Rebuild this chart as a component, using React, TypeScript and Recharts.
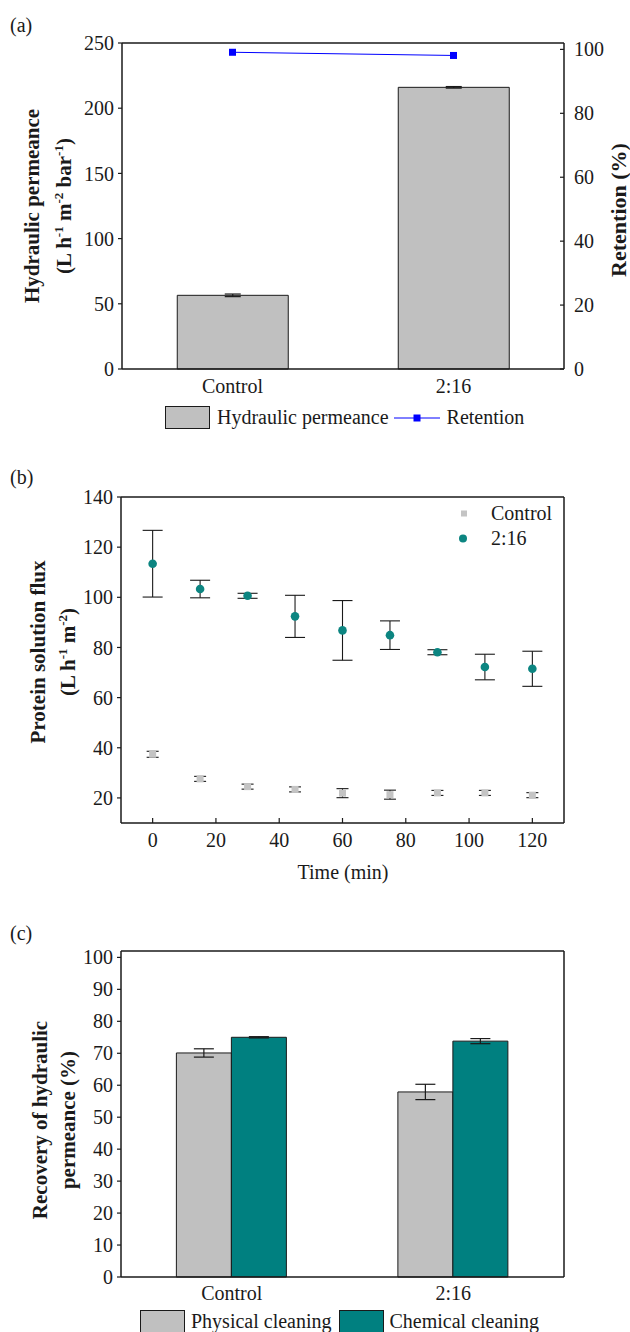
import React from 'react';
import {
  ComposedChart,
  ScatterChart,
  Bar,
  Line,
  Scatter,
  XAxis,
  YAxis,
  ErrorBar,
  ReferenceLine,
  Legend,
} from 'recharts';

const SERIF = '"Liberation Serif", "Times New Roman", serif';
const INK = '#1a1a1a';
const GREY = '#c0c0c0';
const TEAL = '#008080';
const BLUE = '#0000ff';

// (a) pure water permeance + BSA retention
const membranes = ['Control', '2:16'];
const permeance = [56.5, 216];
const permeanceErr = [1.0, 0.6];
const retention = [99.1, 98.1];
const permeanceTicks = [0, 50, 100, 150, 200, 250];
const retentionTicks = [0, 20, 40, 60, 80, 100];

// (b) protein solution flux vs filtration time
const timeMin = [0, 15, 30, 45, 60, 75, 90, 105, 120];
const fluxControl = [37.4, 27.6, 24.5, 23.4, 21.9, 21.3, 22.0, 22.0, 21.1];
const fluxControlErr = [1.2, 1.0, 1.0, 1.0, 1.8, 1.8, 1.0, 1.0, 1.0];
const flux216 = [113.4, 103.3, 100.6, 92.4, 86.8, 84.9, 78.1, 72.2, 71.5];
const flux216Err = [13.3, 3.5, 1.0, 8.4, 11.9, 5.7, 1.0, 5.1, 7.0];
const timeTicks = [0, 20, 40, 60, 80, 100, 120];
const fluxTicks = [20, 40, 60, 80, 100, 120, 140];

// (c) permeance recovery after cleaning
const recoveryPhysical = [70.1, 57.9];
const recoveryPhysicalErr = [1.3, 2.4];
const recoveryChemical = [75.0, 73.8];
const recoveryChemicalErr = [0.2, 0.8];
const recoveryTicks = [0, 10, 20, 30, 40, 50, 60, 70, 80, 90, 100];

const permData = membranes.map((name, i) => ({
  name,
  permeance: permeance[i],
  permeanceErr: permeanceErr[i],
  retention: retention[i],
}));

const controlData = timeMin.map((t, i) => ({ t, flux: fluxControl[i], err: fluxControlErr[i] }));
const data216 = timeMin.map((t, i) => ({ t, flux: flux216[i], err: flux216Err[i] }));

const recoveryData = membranes.map((name, i) => ({
  name,
  physical: recoveryPhysical[i],
  physicalErr: recoveryPhysicalErr[i],
  chemical: recoveryChemical[i],
  chemicalErr: recoveryChemicalErr[i],
}));

const tickFont = { fill: INK, fontSize: 20, fontFamily: SERIF };
const axisStroke = { stroke: INK, strokeWidth: 1.5 };
const tickStroke = { stroke: INK, strokeWidth: 1.2 };

const Sup = ({ children }: { children: React.ReactNode }) => (
  <span style={{ fontSize: '0.62em', position: 'relative', top: '-0.6em' }}>{children}</span>
);

// rotated, bold axis title; first line ends up on the left
function SideTitle({ cx, cy, gap, size, lines }: { cx: number; cy: number; gap: number; size: number; lines: React.ReactNode[] }) {
  const h = gap * lines.length;
  return (
    <div
      style={{
        position: 'absolute',
        left: cx - 200,
        top: cy - h / 2,
        width: 400,
        height: h,
        lineHeight: `${gap}px`,
        textAlign: 'center',
        transform: 'rotate(-90deg)',
        fontFamily: SERIF,
        fontWeight: 700,
        fontSize: size,
        color: INK,
        whiteSpace: 'nowrap',
      }}
    >
      {lines.map((l, i) => (
        <div key={i}>{l}</div>
      ))}
    </div>
  );
}

const PanelTag = ({ text, top }: { text: string; top: number }) => (
  <div style={{ position: 'absolute', left: 10, top, fontFamily: SERIF, fontSize: 20, color: INK, lineHeight: '22px' }}>
    {text}
  </div>
);

const Swatch = ({ color }: { color: string }) => (
  <span style={{ display: 'inline-block', width: 43, height: 21, background: color, border: `1px solid ${INK}` }} />
);

const RetentionDot = (p: any) => (
  <rect key={`r-${p.index}`} x={p.cx - 3.5} y={p.cy - 3.5} width={7} height={7} fill={BLUE} />
);

const SquareMark = (p: any) => <rect x={p.cx - 3.5} y={p.cy - 3.5} width={7} height={7} fill="#c4c4c4" />;
const CircleMark = (p: any) => <circle cx={p.cx} cy={p.cy} r={4.3} fill="#0c8581" />;

const legendA = () => (
  <div style={{ display: 'flex', alignItems: 'center', fontFamily: SERIF, fontSize: 20, color: INK, whiteSpace: 'nowrap' }}>
    <Swatch color={GREY} />
    <span style={{ marginLeft: 7 }}>Hydraulic permeance</span>
    <svg width={48} height={10} style={{ marginLeft: 5 }}>
      <line x1={0} y1={5} x2={46} y2={5} stroke={BLUE} strokeWidth={1} />
      <rect x={19.5} y={1.5} width={7} height={7} fill={BLUE} />
    </svg>
    <span style={{ marginLeft: 5 }}>Retention</span>
  </div>
);

const legendB = () => (
  <div style={{ fontFamily: SERIF, fontSize: 20, color: INK, lineHeight: '25px', whiteSpace: 'nowrap' }}>
    <div style={{ display: 'flex', alignItems: 'center' }}>
      <svg width={36} height={25}>
        <rect x={6} y={9.5} width={6} height={6} fill="#c4c4c4" />
      </svg>
      <span>Control</span>
    </div>
    <div style={{ display: 'flex', alignItems: 'center' }}>
      <svg width={36} height={25}>
        <circle cx={8} cy={12.5} r={4} fill="#0c8581" />
      </svg>
      <span>2:16</span>
    </div>
  </div>
);

const legendC = () => (
  <div style={{ display: 'flex', alignItems: 'center', fontFamily: SERIF, fontSize: 20, color: INK, whiteSpace: 'nowrap' }}>
    <Swatch color={GREY} />
    <span style={{ marginLeft: 6 }}>Physical cleaning</span>
    <span style={{ marginLeft: 7, display: 'inline-flex' }}>
      <Swatch color={TEAL} />
    </span>
    <span style={{ marginLeft: 6 }}>Chemical cleaning</span>
  </div>
);

function PermeancePanel() {
  return (
    <div style={{ position: 'absolute', left: 0, top: 0, width: 630, height: 440 }}>
      <ComposedChart width={630} height={440} data={permData} margin={{ top: 43, right: 6, bottom: 41, left: 62 }} barCategoryGap="25%">
        <XAxis dataKey="name" tick={tickFont} tickLine={false} tickSize={0} tickMargin={10} axisLine={axisStroke} height={30} interval={0} />
        <YAxis yAxisId="left" domain={[0, 250]} ticks={permeanceTicks} tick={tickFont} tickSize={4} tickMargin={4} axisLine={axisStroke} tickLine={tickStroke} width={60} />
        <YAxis yAxisId="right" orientation="right" domain={[0, 102]} ticks={retentionTicks} tick={tickFont} tickSize={-4} tickMargin={14} axisLine={axisStroke} tickLine={tickStroke} width={60} />
        <ReferenceLine yAxisId="left" y={250} stroke={INK} strokeWidth={1.5} />
        <Bar yAxisId="left" dataKey="permeance" name="Hydraulic permeance" fill={GREY} stroke={INK} strokeWidth={1} isAnimationActive={false}>
          <ErrorBar dataKey="permeanceErr" width={8} stroke={INK} strokeWidth={1.2} />
        </Bar>
        <Line yAxisId="right" dataKey="retention" name="Retention" stroke={BLUE} strokeWidth={1} dot={RetentionDot} activeDot={false} isAnimationActive={false} />
        <Legend layout="horizontal" verticalAlign="middle" align="center" content={legendA} wrapperStyle={{ left: 165, top: 406, width: 'auto' }} />
      </ComposedChart>
      <PanelTag text="(a)" top={14} />
      <SideTitle
        cx={48}
        cy={206}
        gap={32}
        size={21}
        lines={[
          'Hydraulic permeance',
          <>
            (L h<Sup>-1</Sup> m<Sup>-2</Sup> bar<Sup>-1</Sup>)
          </>,
        ]}
      />
      <SideTitle cx={619} cy={210} gap={26} size={22} lines={['Retention (%)']} />
    </div>
  );
}

function FluxPanel() {
  return (
    <div style={{ position: 'absolute', left: 0, top: 440, width: 630, height: 450 }}>
      <ScatterChart width={630} height={450} margin={{ top: 57, right: 66, bottom: 37, left: 61 }}>
        <XAxis type="number" dataKey="t" domain={[-10, 130]} ticks={timeTicks} tick={tickFont} tickSize={-5} tickMargin={15} axisLine={axisStroke} tickLine={tickStroke} height={30} interval={0} />
        <YAxis type="number" dataKey="flux" domain={[10, 140]} ticks={fluxTicks} tick={tickFont} tickSize={4} tickMargin={4} axisLine={axisStroke} tickLine={tickStroke} width={60} />
        <ReferenceLine y={140} stroke={INK} strokeWidth={1.5} />
        <ReferenceLine x={130} stroke={INK} strokeWidth={1.5} />
        <Scatter name="Control" data={controlData} shape={SquareMark} isAnimationActive={false}>
          <ErrorBar dataKey="err" direction="y" width={6} stroke={INK} strokeWidth={1.1} />
        </Scatter>
        <Scatter name="2:16" data={data216} shape={CircleMark} isAnimationActive={false}>
          <ErrorBar dataKey="err" direction="y" width={10} stroke={INK} strokeWidth={1.1} />
        </Scatter>
        <Legend layout="horizontal" verticalAlign="middle" align="center" content={legendB} wrapperStyle={{ left: 455, top: 61, width: 'auto' }} />
      </ScatterChart>
      <PanelTag text="(b)" top={26} />
      <SideTitle
        cx={53}
        cy={212}
        gap={30}
        size={21}
        lines={[
          'Protein solution flux',
          <>
            (L h<Sup>-1</Sup> m<Sup>-2</Sup>)
          </>,
        ]}
      />
      <div style={{ position: 'absolute', left: 243, top: 420, width: 200, textAlign: 'center', fontFamily: SERIF, fontSize: 20, color: INK, lineHeight: '24px' }}>
        Time (min)
      </div>
    </div>
  );
}

function RecoveryPanel() {
  return (
    <div style={{ position: 'absolute', left: 0, top: 890, width: 630, height: 442 }}>
      <ComposedChart width={630} height={442} data={recoveryData} margin={{ top: 61, right: 64, bottom: 25, left: 61 }} barCategoryGap="25%" barGap={0}>
        <XAxis dataKey="name" tick={tickFont} tickLine={false} tickSize={0} tickMargin={9} axisLine={axisStroke} height={30} interval={0} />
        <YAxis yAxisId="left" domain={[0, 102]} ticks={recoveryTicks} tick={tickFont} tickSize={4} tickMargin={4} axisLine={axisStroke} tickLine={tickStroke} width={60} />
        <YAxis yAxisId="frame" orientation="right" domain={[0, 102]} tick={false} tickLine={false} axisLine={axisStroke} width={2} />
        <ReferenceLine yAxisId="left" y={102} stroke={INK} strokeWidth={1.5} />
        <Bar yAxisId="left" dataKey="physical" name="Physical cleaning" fill={GREY} stroke={INK} strokeWidth={1} isAnimationActive={false}>
          <ErrorBar dataKey="physicalErr" width={10} stroke={INK} strokeWidth={1.2} />
        </Bar>
        <Bar yAxisId="left" dataKey="chemical" name="Chemical cleaning" fill={TEAL} stroke={INK} strokeWidth={1} isAnimationActive={false}>
          <ErrorBar dataKey="chemicalErr" width={10} stroke={INK} strokeWidth={1.2} />
        </Bar>
        <Legend layout="horizontal" verticalAlign="middle" align="center" content={legendC} wrapperStyle={{ left: 140, top: 420, width: 'auto' }} />
      </ComposedChart>
      <PanelTag text="(c)" top={32} />
      <SideTitle cx={54} cy={230} gap={28} size={21} lines={['Recovery of hydraulic', 'permeance (%)']} />
    </div>
  );
}

export default function App() {
  return (
    <div style={{ position: 'absolute', left: 0, top: 0, width: 630, height: 1332, background: '#fff', overflow: 'hidden' }}>
      <PermeancePanel />
      <FluxPanel />
      <RecoveryPanel />
    </div>
  );
}
